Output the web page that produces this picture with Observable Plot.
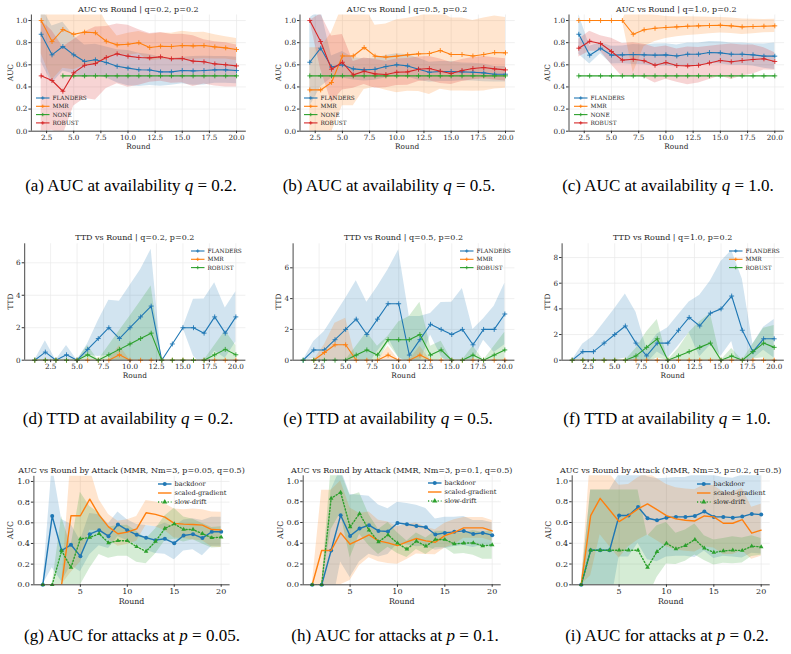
<!DOCTYPE html>
<html>
<head>
<meta charset="utf-8">
<script src="https://cdn.jsdelivr.net/npm/d3@7"></script>
<script src="https://cdn.jsdelivr.net/npm/@observablehq/plot@0.6"></script>
<style>
  html, body { margin: 0; padding: 0; background: #fff; }
  #fig { position: relative; width: 791px; height: 654px; overflow: hidden; background: #fff; }
  #fig svg { position: absolute; overflow: visible; }
</style>
</head>
<body>
<div id="fig"></div>
<script>
// ---------- rounds ----------
const roundsAuc = [2, 3, 4, 5, 6, 7, 8, 9, 10, 11, 12, 13, 14, 15, 16, 17, 18, 19, 20];
const roundsAll = [1, 2, 3, 4, 5, 6, 7, 8, 9, 10, 11, 12, 13, 14, 15, 16, 17, 18, 19, 20];

// ---------- AUC vs Round, q=0.2 ----------
const aucQ02Flanders   = [0.876, 0.69, 0.765, 0.69, 0.63, 0.645, 0.62, 0.587, 0.57, 0.555, 0.553, 0.536, 0.536, 0.548, 0.545, 0.548, 0.554, 0.554, 0.548];
const aucQ02FlandersSd = [0.25, 0.26, 0.22, 0.17, 0.15, 0.14, 0.14, 0.15, 0.16, 0.15, 0.14, 0.13, 0.12, 0.12, 0.13, 0.13, 0.12, 0.12, 0.12];
const aucQ02Mmr        = [1.0, 0.81, 0.919, 0.876, 0.895, 0.889, 0.813, 0.78, 0.786, 0.8, 0.756, 0.768, 0.765, 0.774, 0.771, 0.774, 0.762, 0.753, 0.738];
const aucQ02MmrSd      = [0.3, 0.35, 0.35, 0.32, 0.3, 0.28, 0.17, 0.08, 0.1, 0.1, 0.12, 0.12, 0.12, 0.13, 0.12, 0.12, 0.11, 0.1, 0.1];
const aucQ02None       = [NaN, NaN, 0.5, 0.5, 0.5, 0.5, 0.5, 0.5, 0.5, 0.5, 0.5, 0.5, 0.5, 0.5, 0.5, 0.5, 0.5, 0.5, 0.5];
const aucQ02NoneSd     = [NaN, NaN, 0, 0, 0, 0, 0, 0, 0, 0, 0, 0, 0, 0, 0, 0, 0, 0, 0];
const aucQ02Robust     = [0.5, 0.458, 0.361, 0.527, 0.596, 0.611, 0.666, 0.699, 0.678, 0.666, 0.663, 0.672, 0.654, 0.657, 0.633, 0.627, 0.608, 0.6, 0.59];
const aucQ02RobustSd   = [0.5, 0.45, 0.4, 0.3, 0.3, 0.33, 0.28, 0.27, 0.28, 0.25, 0.22, 0.22, 0.22, 0.22, 0.23, 0.2, 0.2, 0.2, 0.19];

// ---------- AUC vs Round, q=0.5 ----------
const aucQ05Flanders   = [0.623, 0.75, 0.58, 0.6, 0.563, 0.554, 0.56, 0.584, 0.6, 0.59, 0.56, 0.533, 0.539, 0.539, 0.536, 0.533, 0.527, 0.515, 0.515];
const aucQ05FlandersSd = [0.4, 0.35, 0.1, 0.12, 0.1, 0.1, 0.1, 0.1, 0.1, 0.1, 0.1, 0.09, 0.09, 0.09, 0.08, 0.08, 0.08, 0.07, 0.07];
const aucQ05Mmr        = [0.373, 0.373, 0.44, 0.68, 0.68, 0.756, 0.678, 0.669, 0.678, 0.69, 0.699, 0.702, 0.729, 0.693, 0.693, 0.68, 0.693, 0.711, 0.708];
const aucQ05MmrSd      = [0.38, 0.38, 0.45, 0.45, 0.45, 0.38, 0.28, 0.3, 0.33, 0.33, 0.34, 0.37, 0.35, 0.33, 0.33, 0.32, 0.33, 0.33, 0.32];
const aucQ05None       = [0.5, 0.5, 0.5, 0.5, 0.5, 0.5, 0.5, 0.5, 0.5, 0.5, 0.5, 0.5, 0.5, 0.5, 0.5, 0.5, 0.5, 0.5, 0.5];
const aucQ05NoneSd     = [0, 0, 0, 0, 0, 0, 0, 0, 0, 0, 0, 0, 0, 0, 0, 0, 0, 0, 0];
const aucQ05Robust     = [1.0, 0.81, 0.56, 0.623, 0.509, 0.542, 0.518, 0.512, 0.533, 0.536, 0.56, 0.566, 0.542, 0.521, 0.548, 0.566, 0.575, 0.563, 0.554];
const aucQ05RobustSd   = [0, 0.25, 0.3, 0.25, 0.12, 0.12, 0.13, 0.12, 0.12, 0.12, 0.11, 0.11, 0.11, 0.1, 0.1, 0.1, 0.1, 0.1, 0.1];

// ---------- AUC vs Round, q=1.0 ----------
const aucQ10Flanders   = [0.876, 0.687, 0.75, 0.687, 0.69, 0.693, 0.69, 0.687, 0.69, 0.68, 0.696, 0.696, 0.711, 0.708, 0.696, 0.696, 0.69, 0.678, 0.678];
const aucQ10FlandersSd = [0.18, 0.08, 0.05, 0.08, 0.08, 0.09, 0.09, 0.1, 0.1, 0.1, 0.1, 0.1, 0.1, 0.1, 0.1, 0.1, 0.1, 0.11, 0.12];
const aucQ10Mmr        = [1.0, 1.0, 1.0, 1.0, 1.0, 0.876, 0.916, 0.93, 0.937, 0.943, 0.949, 0.952, 0.955, 0.958, 0.952, 0.943, 0.946, 0.949, 0.952];
const aucQ10MmrSd      = [0, 0, 0, 0, 0, 0.35, 0.15, 0.12, 0.1, 0.09, 0.085, 0.08, 0.075, 0.07, 0.07, 0.07, 0.065, 0.06, 0.06];
const aucQ10None       = [0.5, 0.5, 0.5, 0.5, 0.5, 0.5, 0.5, 0.5, 0.5, 0.5, 0.5, 0.5, 0.5, 0.5, 0.5, 0.5, 0.5, 0.5, 0.5];
const aucQ10NoneSd     = [0, 0, 0, 0, 0, 0, 0, 0, 0, 0, 0, 0, 0, 0, 0, 0, 0, 0, 0];
const aucQ10Robust     = [0.75, 0.813, 0.792, 0.72, 0.642, 0.65, 0.636, 0.596, 0.62, 0.593, 0.59, 0.596, 0.617, 0.639, 0.627, 0.639, 0.648, 0.654, 0.63];
const aucQ10RobustSd   = [0.08, 0.09, 0.07, 0.12, 0.15, 0.15, 0.15, 0.16, 0.15, 0.15, 0.17, 0.16, 0.15, 0.14, 0.16, 0.14, 0.13, 0.1, 0.08];

// ---------- TTD vs Round, q=0.2 ----------
const ttdQ02Flanders   = [0, 0.5, 0, 0.333, 0, 0.667, 1.333, 2, 1.333, 2, 2.667, 3.333, 0, 1, 2, 2, 1.667, 2.667, 1.667, 2.667];
const ttdQ02FlandersSd = [0, 0.7, 0, 0.57, 0, 0.35, 1.1, 1.7, 2.3, 2.6, 2.9, 3.5, 0, 0, 0, 1.75, 2.1, 2.1, 1.55, 1.55];
const ttdQ02Mmr        = [0, 0, 0, 0, 0, 0, 0, 0, 0.333, 0, 0, 0, 0, 0, 0, 0, 0, 0, 0, 0];
const ttdQ02MmrSd      = [0, 0, 0, 0, 0, 0, 0, 0, 0.57, 0, 0, 0, 0, 0, 0, 0, 0, 0, 0, 0];
const ttdQ02Robust     = [0, 0, 0, 0, 0, 0.333, 0, 0.333, 0.667, 1, 1.333, 1.667, 0, 0, 0, 0, 0, 0.333, 0.667, 0.333];
const ttdQ02RobustSd   = [0, 0, 0, 0, 0, 0.57, 0, 0.57, 1.15, 1.7, 2.3, 2.9, 0, 0, 0, 0, 0, 0.57, 1.15, 0.57];

// ---------- TTD vs Round, q=0.5 ----------
const ttdQ05Flanders   = [0, 0.667, 0.667, 1.333, 2, 2.667, 1.667, 2.667, 3.667, 3.667, 0.333, 1.333, 2.333, 2, 1.667, 2, 1, 2, 2, 3];
const ttdQ05FlandersSd = [0, 0.55, 1.2, 1.6, 2, 2.5, 2.1, 2.1, 2.2, 3.5, 2.5, 1.5, 0.7, 1.75, 2.1, 2.65, 1, 0.7, 1.5, 2];
const ttdQ05Mmr        = [NaN, 0, 0.5, 1, 1, 0, 0, 0, 0.333, 0, 0, 0.333, 0, 0, 0, 0, 0, 0, 0, 0];
const ttdQ05MmrSd      = [NaN, 0, 0.5, 1.4, 1.73, 0, 0, 0, 0.57, 0, 0, 0.57, 0, 0, 0, 0, 0, 0, 0, 0];
const ttdQ05Robust     = [0, 0, 0, 0, 0, 0.333, 0.667, 0.333, 1.333, 1.333, 1.333, 1.667, 0.333, 0.667, 0, 0, 0.333, 0, 0.333, 0.667];
const ttdQ05RobustSd   = [0, 0, 0, 0, 0, 0.57, 1.15, 0.57, 0.23, 1.15, 1.5, 2.1, 0.57, 0.57, 0, 0, 0.57, 0, 0.57, 1.15];

// ---------- TTD vs Round, q=1.0 ----------
const ttdQ10Flanders   = [0, 0.667, 0.667, 1.333, 2, 2.667, 1.333, 0.333, 1.333, 1.333, 2.333, 3.333, 2.667, 3.667, 4, 5, 2.333, 0.667, 1.667, 1.667];
const ttdQ10FlandersSd = [0, 0.6, 1.2, 1.6, 2, 2.5, 2.4, 0.6, 0.7, 1.2, 1.2, 1.2, 2.4, 2.5, 3.7, 3.55, 4, 0.6, 0.9, 1.5];
const ttdQ10Mmr        = [0, 0, 0, 0, 0, 0, 0, 0, 0, 0, 0, 0, 0, 0, 0, 0, 0, 0, 0, 0];
const ttdQ10MmrSd      = [0, 0, 0, 0, 0, 0, 0, 0, 0, 0, 0, 0, 0, 0, 0, 0, 0, 0, 0, 0];
const ttdQ10Robust     = [0, 0, 0, 0, 0, 0, 0.333, 1, 1.667, 0, 0.333, 0.667, 1, 1.333, 0, 0.333, 0, 0.667, 1.333, 1];
const ttdQ10RobustSd   = [0, 0, 0, 0, 0, 0, 0.57, 1.2, 1.5, 0, 0.57, 1.5, 2, 2.3, 0, 0.57, 0, 0.57, 1.15, 1.7];

// ---------- AUC by attack (MMR, Nm=3, q=0.5), p=0.05 ----------
const atkP005Backdoor   = [0, 0.665, 0.332, 0.387, 0.277, 0.49, 0.529, 0.471, 0.584, 0.529, 0.484, 0.455, 0.432, 0.445, 0.403, 0.477, 0.49, 0.452, 0.513, 0.513];
const atkP005BackdoorSd = [0, 0.5, 0.3, 0.2, 0.15, 0.2, 0.15, 0.12, 0.12, 0.1, 0.1, 0.12, 0.13, 0.15, 0.16, 0.15, 0.15, 0.17, 0.14, 0.14];
const atkP005Scaled     = [0, 0, 0, 0.668, 0.668, 0.829, 0.674, 0.561, 0.494, 0.51, 0.542, 0.697, 0.681, 0.655, 0.594, 0.587, 0.584, 0.577, 0.535, 0.532];
const atkP005ScaledSd   = [0, 0, 0, 0.55, 0.45, 0.3, 0.15, 0.12, 0.12, 0.12, 0.12, 0.12, 0.12, 0.13, 0.14, 0.14, 0.15, 0.15, 0.17, 0.17];
const atkP005Drift      = [0, 0, 0.33, 0.168, 0.445, 0.458, 0.494, 0.406, 0.426, 0.426, 0.368, 0.323, 0.419, 0.545, 0.59, 0.535, 0.535, 0.494, 0.455, 0.461];
const atkP005DriftSd    = [0, 0, 0.33, 0.2, 0.45, 0.3, 0.2, 0.15, 0.15, 0.15, 0.15, 0.12, 0.12, 0.12, 0.15, 0.12, 0.1, 0.1, 0.1, 0.1];

// ---------- AUC by attack, p=0.1 ----------
const atkP01Backdoor   = [0, 0, 0.33, 0.67, 0.471, 0.542, 0.574, 0.519, 0.513, 0.596, 0.583, 0.567, 0.554, 0.484, 0.5, 0.51, 0.519, 0.49, 0.5, 0.478];
const atkP01BackdoorSd = [0, 0, 0.58, 0.45, 0.4, 0.32, 0.28, 0.25, 0.22, 0.2, 0.2, 0.2, 0.18, 0.15, 0.15, 0.14, 0.14, 0.13, 0.12, 0.12];
const atkP01Scaled     = [0, 0.33, 0.33, 0.5, 0.391, 0.436, 0.481, 0.423, 0.404, 0.378, 0.413, 0.446, 0.423, 0.41, 0.474, 0.506, 0.548, 0.548, 0.548, 0.519];
const atkP01ScaledSd   = [0, 0.58, 0.58, 0.5, 0.35, 0.25, 0.22, 0.2, 0.2, 0.18, 0.17, 0.15, 0.13, 0.12, 0.12, 0.12, 0.1, 0.1, 0.1, 0.1];
const atkP01Drift      = [0, 0, 0.833, 0.891, 0.558, 0.686, 0.526, 0.413, 0.481, 0.401, 0.343, 0.42, 0.372, 0.436, 0.436, 0.394, 0.401, 0.404, 0.375, 0.385];
const atkP01DriftSd    = [0, 0, 0.3, 0.2, 0.3, 0.2, 0.15, 0.12, 0.12, 0.1, 0.08, 0.08, 0.08, 0.08, 0.08, 0.1, 0.1, 0.12, 0.13, 0.14];

// ---------- AUC by attack, p=0.2 ----------
const atkP02Backdoor   = [0, 0.333, 0.333, 0.333, 0.667, 0.667, 0.75, 0.641, 0.622, 0.647, 0.654, 0.654, 0.663, 0.705, 0.654, 0.654, 0.647, 0.657, 0.683, 0.676];
const atkP02BackdoorSd = [0, 0.58, 0.58, 0.58, 0.4, 0.4, 0.35, 0.4, 0.4, 0.38, 0.38, 0.38, 0.4, 0.38, 0.4, 0.38, 0.38, 0.4, 0.38, 0.38];
const atkP02Scaled     = [0, 0.667, 0.833, 0.72, 0.609, 0.667, 0.731, 0.779, 0.724, 0.667, 0.635, 0.622, 0.615, 0.663, 0.654, 0.593, 0.593, 0.628, 0.497, 0.526];
const atkP02ScaledSd   = [0, 0.58, 0.35, 0.35, 0.35, 0.3, 0.3, 0.3, 0.3, 0.3, 0.3, 0.3, 0.3, 0.3, 0.3, 0.3, 0.3, 0.3, 0.25, 0.25];
const atkP02Drift      = [0, 0.333, 0.333, 0.333, 0.333, 0.333, 0.333, 0.167, 0.32, 0.4, 0.346, 0.378, 0.436, 0.353, 0.311, 0.327, 0.333, 0.33, 0.372, 0.365];
const atkP02DriftSd    = [0, 0.58, 0.58, 0.58, 0.58, 0.58, 0.58, 0.3, 0.25, 0.2, 0.15, 0.15, 0.15, 0.12, 0.12, 0.12, 0.13, 0.12, 0.1, 0.08];

// ---------- tick values ----------
const ticksAucX  = [2.5, 5, 7.5, 10, 12.5, 15, 17.5, 20];
const ticksAucY  = [0, 0.2, 0.4, 0.6, 0.8, 1.0];
const ticksTtdY  = [0, 2, 4, 6];
const ticksTtdY8 = [0, 2, 4, 6, 8];
const ticksAtkX  = [5, 10, 15, 20];

// ---------- colours ----------
const BLUE = "#1f77b4", ORANGE = "#ff7f0e", GREEN = "#2ca02c", RED = "#d62728";
const INK = "#262626";
const SERIF = "'DejaVu Serif', serif";

const methodSeries = (f, fs, m, ms, n, ns, r, rs) => [
  { name: "FLANDERS", color: BLUE, mean: f, sd: fs },
  { name: "MMR", color: ORANGE, mean: m, sd: ms },
  ...(n ? [{ name: "NONE", color: GREEN, mean: n, sd: ns }] : []),
  { name: "ROBUST", color: RED, mean: r, sd: rs }
];
const ttdSeries = (f, fs, m, ms, r, rs) => [
  { name: "FLANDERS", color: BLUE, mean: f, sd: fs },
  { name: "MMR", color: ORANGE, mean: m, sd: ms },
  { name: "ROBUST", color: GREEN, mean: r, sd: rs }
];
const attackSeries = (b, bs, s, ss, d, ds) => [
  { name: "backdoor", color: BLUE, mean: b, sd: bs, marker: "circle" },
  { name: "scaled-gradient", color: ORANGE, mean: s, sd: ss },
  { name: "slow-drift", color: GREEN, mean: d, sd: ds, marker: "triangle", dash: "1.2,2" }
];

const fmt1 = d3.format(".1f"), fmt0 = d3.format("d");

const panels = [
  // row 1
  { l: 30.9, r: 245.8, t: 14.5, b: 130.7, rounds: roundsAuc, xDomain: [1.1, 20.9], yDomain: [0, 1.05],
    xTicks: ticksAucX, yTicks: ticksAucY, xFmt: fmt1, yFmt: fmt1, kind: "method",
    title: "AUC vs Round | q=0.2, p=0.2", yLabel: "AUC", yLabelX: 10, legend: { x: 36, y: 98 },
    series: methodSeries(aucQ02Flanders, aucQ02FlandersSd, aucQ02Mmr, aucQ02MmrSd, aucQ02None, aucQ02NoneSd, aucQ02Robust, aucQ02RobustSd) },
  { l: 299.5, r: 514.8, t: 14.5, b: 130.7, rounds: roundsAuc, xDomain: [1.1, 20.9], yDomain: [0, 1.05],
    xTicks: ticksAucX, yTicks: ticksAucY, xFmt: fmt1, yFmt: fmt1, kind: "method",
    title: "AUC vs Round | q=0.5, p=0.2", yLabel: "AUC", yLabelX: 278, legend: { x: 304, y: 98 },
    series: methodSeries(aucQ05Flanders, aucQ05FlandersSd, aucQ05Mmr, aucQ05MmrSd, aucQ05None, aucQ05NoneSd, aucQ05Robust, aucQ05RobustSd) },
  { l: 568.5, r: 784.1, t: 14.5, b: 130.7, rounds: roundsAuc, xDomain: [1.1, 20.9], yDomain: [0, 1.05],
    xTicks: ticksAucX, yTicks: ticksAucY, xFmt: fmt1, yFmt: fmt1, kind: "method",
    title: "AUC vs Round | q=1.0, p=0.2", yLabel: "AUC", yLabelX: 547, legend: { x: 574, y: 98 },
    series: methodSeries(aucQ10Flanders, aucQ10FlandersSd, aucQ10Mmr, aucQ10MmrSd, aucQ10None, aucQ10NoneSd, aucQ10Robust, aucQ10RobustSd) },
  // row 2
  { l: 24.2, r: 245.4, t: 243.3, b: 359.7, rounds: roundsAll, xDomain: [0.05, 20.95], yDomain: [0, 7.17],
    xTicks: ticksAucX, yTicks: ticksTtdY, xFmt: fmt1, yFmt: fmt0, kind: "method",
    title: "TTD vs Round | q=0.2, p=0.2", yLabel: "TTD", yLabelX: 10, legend: { x: 191, y: 251 },
    series: ttdSeries(ttdQ02Flanders, ttdQ02FlandersSd, ttdQ02Mmr, ttdQ02MmrSd, ttdQ02Robust, ttdQ02RobustSd) },
  { l: 292.6, r: 514.4, t: 243.3, b: 359.7, rounds: roundsAll, xDomain: [0.05, 20.95], yDomain: [0, 7.56],
    xTicks: ticksAucX, yTicks: ticksTtdY, xFmt: fmt1, yFmt: fmt0, kind: "method",
    title: "TTD vs Round | q=0.5, p=0.2", yLabel: "TTD", yLabelX: 278, legend: { x: 460, y: 251 },
    series: ttdSeries(ttdQ05Flanders, ttdQ05FlandersSd, ttdQ05Mmr, ttdQ05MmrSd, ttdQ05Robust, ttdQ05RobustSd) },
  { l: 561.6, r: 783.8, t: 243.3, b: 359.7, rounds: roundsAll, xDomain: [0.05, 20.95], yDomain: [0, 9.07],
    xTicks: ticksAucX, yTicks: ticksTtdY8, xFmt: fmt1, yFmt: fmt0, kind: "method",
    title: "TTD vs Round | q=1.0, p=0.2", yLabel: "TTD", yLabelX: 547, legend: { x: 729, y: 251 },
    series: ttdSeries(ttdQ10Flanders, ttdQ10FlandersSd, ttdQ10Mmr, ttdQ10MmrSd, ttdQ10Robust, ttdQ10RobustSd) },
  // row 3
  { l: 33.4, r: 229.6, t: 475.8, b: 584.3, rounds: roundsAll, xDomain: [0.05, 20.95], yDomain: [0, 1.05],
    xTicks: ticksAtkX, yTicks: ticksAucY, xFmt: fmt0, yFmt: fmt1, kind: "attack",
    title: "AUC vs Round by Attack (MMR, Nm=3, p=0.05, q=0.5)", yLabel: "AUC", yLabelX: 10, legend: { x: 158, y: 484 },
    series: attackSeries(atkP005Backdoor, atkP005BackdoorSd, atkP005Scaled, atkP005ScaledSd, atkP005Drift, atkP005DriftSd) },
  { l: 302.7, r: 500.7, t: 475.3, b: 584.3, rounds: roundsAll, xDomain: [0.05, 20.95], yDomain: [0, 1.05],
    xTicks: ticksAtkX, yTicks: ticksAucY, xFmt: fmt0, yFmt: fmt1, kind: "attack",
    title: "AUC vs Round by Attack (MMR, Nm=3, p=0.1, q=0.5)", yLabel: "AUC", yLabelX: 280, legend: { x: 428, y: 483 },
    series: attackSeries(atkP01Backdoor, atkP01BackdoorSd, atkP01Scaled, atkP01ScaledSd, atkP01Drift, atkP01DriftSd) },
  { l: 571.7, r: 769.7, t: 475.3, b: 584.3, rounds: roundsAll, xDomain: [0.05, 20.95], yDomain: [0, 1.05],
    xTicks: ticksAtkX, yTicks: ticksAucY, xFmt: fmt0, yFmt: fmt1, kind: "attack",
    title: "AUC vs Round by Attack (MMR, Nm=3, p=0.2, q=0.5)", yLabel: "AUC", yLabelX: 548, legend: { x: 697, y: 484 },
    series: attackSeries(atkP02Backdoor, atkP02BackdoorSd, atkP02Scaled, atkP02ScaledSd, atkP02Drift, atkP02DriftSd) }
];

const captions = [
  { x: 131, y: 191, label: "(a) AUC at availability ", v: "q", val: "0.2." },
  { x: 389, y: 191, label: "(b) AUC at availability ", v: "q", val: "0.5." },
  { x: 668, y: 191, label: "(c) AUC at availability ", v: "q", val: "1.0." },
  { x: 128, y: 424, label: "(d) TTD at availability ", v: "q", val: "0.2." },
  { x: 388, y: 424, label: "(e) TTD at availability ", v: "q", val: "0.5." },
  { x: 667, y: 424, label: "(f) TTD at availability ", v: "q", val: "1.0." },
  { x: 132, y: 641, label: "(g) AUC for attacks at ", v: "p", val: "0.05." },
  { x: 395, y: 641, label: "(h) AUC for attacks at ", v: "p", val: "0.1." },
  { x: 667, y: 641, label: "(i) AUC for attacks at ", v: "p", val: "0.2." }
];

const fig = document.getElementById("fig");

function drawPanel(p) {
  const padL = 30, padR = 6, padT = 4, padB = 14;
  const left = Math.floor(p.l - padL), top = Math.floor(p.t - padT);
  const width = Math.ceil(p.r + padR) - left, height = Math.ceil(p.b + padB) - top;
  const attack = p.kind === "attack";
  const fs = attack ? 8 : 7.2;
  const lw = attack ? 1.4 : 1.1;

  const tables = p.series.map(s => p.rounds.map((r, i) => ({
    round: r, mean: s.mean[i], lo: s.mean[i] - s.sd[i], hi: s.mean[i] + s.sd[i]
  })));

  const marks = [
    Plot.gridX({ ticks: p.xTicks, stroke: "#e9e9e9", strokeOpacity: 1, strokeWidth: 0.7 }),
    Plot.gridY({ ticks: p.yTicks, stroke: "#e9e9e9", strokeOpacity: 1, strokeWidth: 0.7 })
  ];
  p.series.forEach((s, k) => {
    marks.push(Plot.areaY(tables[k], { x: "round", y1: "lo", y2: "hi", fill: s.color, fillOpacity: 0.2, clip: true }));
  });
  p.series.forEach((s, k) => {
    marks.push(Plot.lineY(tables[k], {
      x: "round", y: "mean", stroke: s.color, strokeWidth: lw,
      strokeDasharray: s.dash || null, clip: true
    }));
    if (!attack) {
      marks.push(Plot.dot(tables[k], { x: "round", y: "mean", symbol: "plus", r: 1.7, stroke: s.color, strokeWidth: 0.9 }));
    } else if (s.marker) {
      marks.push(Plot.dot(tables[k], { x: "round", y: "mean", symbol: s.marker, r: s.marker === "circle" ? 2.0 : 1.7, fill: s.color, stroke: "none" }));
    }
  });
  marks.push(
    Plot.ruleX([p.xDomain[0]], { stroke: "#333", strokeWidth: 0.9 }),
    Plot.ruleY([p.yDomain[0]], { stroke: "#333", strokeWidth: 0.9 }),
    Plot.axisX({ ticks: p.xTicks, tickFormat: p.xFmt, tickSize: 2.5, tickPadding: 1.5, fontSize: fs, label: null, stroke: "#333" }),
    Plot.axisY({ ticks: p.yTicks, tickFormat: p.yFmt, tickSize: 2.5, tickPadding: 1.5, fontSize: fs, label: null, stroke: "#333" })
  );

  const svg = Plot.plot({
    width, height,
    marginLeft: p.l - left, marginRight: left + width - p.r,
    marginTop: p.t - top, marginBottom: top + height - p.b,
    x: { domain: p.xDomain, type: "linear" },
    y: { domain: p.yDomain, type: "linear" },
    style: { fontFamily: SERIF, color: INK, background: "transparent", overflow: "visible" },
    marks
  });
  svg.style.left = left + "px";
  svg.style.top = top + "px";
  fig.appendChild(svg);
}

panels.forEach(drawPanel);

// titles, axis labels, legends and captions on one layer
const ov = d3.select(fig).append("svg")
  .attr("width", 791).attr("height", 654)
  .style("left", "0px").style("top", "0px");

panels.forEach(p => {
  const attack = p.kind === "attack";
  const cx = (p.l + p.r) / 2;
  ov.append("text").attr("x", cx).attr("y", p.t - (attack ? 2.5 : 3))
    .attr("text-anchor", "middle").attr("font-family", SERIF).attr("font-size", 8).attr("fill", INK)
    .text(p.title);
  ov.append("text").attr("x", cx).attr("y", p.b + (attack ? 19.5 : 18.5))
    .attr("text-anchor", "middle").attr("font-family", SERIF).attr("font-size", attack ? 7.8 : 7.4).attr("fill", INK)
    .text("Round");
  const cy = (p.t + p.b) / 2;
  ov.append("text").attr("transform", `translate(${p.yLabelX + 2.6},${cy}) rotate(-90)`)
    .attr("text-anchor", "middle").attr("font-family", SERIF).attr("font-size", attack ? 7.8 : 7.4).attr("fill", INK)
    .text(p.yLabel);

  // legend
  const g = ov.append("g");
  const gap = attack ? 9 : 8.3;
  const len = 13.5;
  const lfs = attack ? 6.6 : 5.8;
  p.series.forEach((s, i) => {
    const y = p.legend.y + i * gap;
    g.append("line").attr("x1", p.legend.x).attr("x2", p.legend.x + len).attr("y1", y).attr("y2", y)
      .attr("stroke", s.color).attr("stroke-width", attack ? 1.4 : 1.1)
      .attr("stroke-dasharray", s.dash || null);
    const mx = p.legend.x + len / 2;
    if (!attack) {
      g.append("path").attr("d", `M${mx - 1.7},${y}H${mx + 1.7}M${mx},${y - 1.7}V${y + 1.7}`)
        .attr("stroke", s.color).attr("stroke-width", 0.9);
    } else if (s.marker === "circle") {
      g.append("circle").attr("cx", mx).attr("cy", y).attr("r", 2.0).attr("fill", s.color);
    } else if (s.marker === "triangle") {
      g.append("path").attr("transform", `translate(${mx},${y})`)
        .attr("d", d3.symbol(d3.symbolTriangle, 12)()).attr("fill", s.color);
    }
    g.append("text").attr("x", p.legend.x + len + 3).attr("y", y).attr("dy", "0.35em")
      .attr("font-family", SERIF).attr("font-size", lfs).attr("fill", INK).text(s.name);
  });
});

captions.forEach(c => {
  const t = ov.append("text").attr("x", c.x).attr("y", c.y).attr("text-anchor", "middle")
    .attr("font-family", "'Liberation Serif', 'Times New Roman', serif").attr("font-size", 17).attr("fill", "#000");
  t.append("tspan").text(c.label);
  t.append("tspan").attr("font-style", "italic").text(c.v);
  t.append("tspan").text(" = " + c.val);
});
</script>
</body>
</html>
